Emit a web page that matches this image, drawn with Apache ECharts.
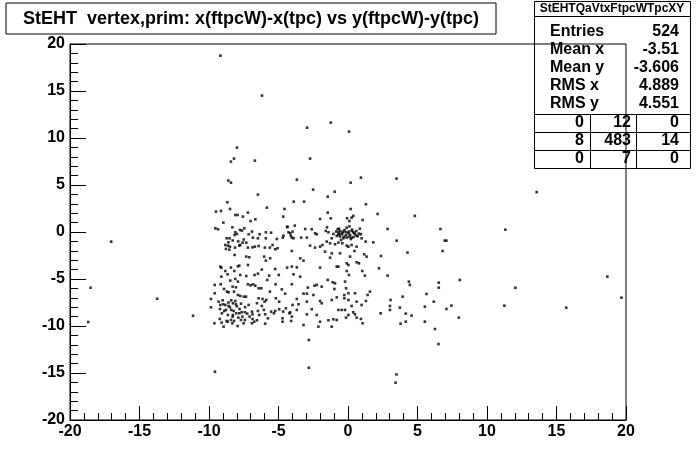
<!DOCTYPE html>
<html><head><meta charset="utf-8">
<script src="https://cdn.jsdelivr.net/npm/echarts@6/dist/echarts.min.js"></script>
<style>html,body{margin:0;padding:0;background:#fff}#c{width:696px;height:468px}</style>
</head><body><div id="c"></div><script>
const titleText = 'StEHT  vertex,prim: x(ftpcW)-x(tpc) vs y(ftpcW)-y(tpc)';
const statsName = 'StEHTQaVtxFtpcWTpcXY';
const statLabels = ['Entries', 'Mean x', 'Mean y', 'RMS x', 'RMS y'];
const statValues = ['524', '-3.51', '-3.606', '4.889', '4.551'];
const overflowGrid = [['0', '12', '0'], ['8', '483', '14'], ['0', '7', '0']];
const axisMin = -20, axisMax = 20, axisStep = 5;

const leftBlock = [[-8.68,3.16],[-9.50,2.17],[-9.14,2.24],[-8.49,2.45],[-5.84,2.59],[-4.57,2.45],[-7.20,2.06],[-8.11,1.81],[-7.94,1.81],[-7.56,1.64],[-4.66,1.64],[-6.67,1.35],[-7.01,1.17],[-8.97,1.00],[-9.54,0.39],[-9.35,0.29],[-8.32,0.50],[-7.46,0.39],[-7.77,0.22],[-7.63,0.15],[-8.11,-0.03],[-7.99,-0.21],[-8.16,-0.32],[-6.91,0.04],[-7.15,-0.24],[-6.36,-0.24],[-5.91,-0.03],[-5.53,-0.07],[-4.38,0.54],[-4.64,-0.39],[-4.69,-0.60],[-8.73,-0.67],[-8.52,-0.67],[-6.84,-0.60],[-6.48,-0.67],[-5.91,-0.67],[-5.12,-0.74],[-7.58,-1.13],[-7.32,-1.13],[-8.83,-1.38],[-8.64,-1.45],[-8.49,-1.56],[-8.78,-1.80],[-8.54,-1.88],[-7.82,-1.45],[-7.75,-1.38],[-8.13,-1.66],[-7.20,-1.66],[-6.87,-1.63],[-6.70,-1.56],[-6.43,-1.49],[-5.43,-1.38],[-5.07,-1.73],[-5.24,-1.84],[-5.62,-1.66],[-5.98,-1.66],[-8.16,-2.44],[-7.32,-2.62],[-7.10,-2.69],[-6.03,-2.62],[-5.60,-2.80],[-5.91,-3.05],[-7.20,-3.51],[-9.19,-3.68],[-9.11,-3.79],[-8.42,-3.79],[-7.92,-3.65],[-7.82,-3.58],[-4.38,-3.79],[-8.83,-4.15],[-8.18,-4.15],[-6.20,-4.00],[-5.24,-3.93],[-9.11,-4.75],[-8.66,-4.50],[-7.75,-4.57],[-7.32,-4.68],[-6.72,-4.57],[-6.48,-4.43],[-5.67,-4.64],[-4.98,-4.57],[-8.11,-5.00],[-8.47,-5.17],[-7.92,-5.28],[-7.20,-5.56],[-7.01,-5.67],[-6.84,-5.56],[-6.67,-5.71],[-5.81,-5.10],[-5.21,-5.56],[-9.59,-5.63],[-9.16,-5.56],[-8.92,-6.06],[-8.30,-5.81],[-8.06,-5.88],[-6.43,-5.99],[-6.24,-5.99],[-4.76,-6.10],[-4.52,-6.56],[-9.59,-6.52],[-8.71,-6.34],[-8.59,-6.41],[-8.20,-6.34],[-7.92,-6.70],[-7.75,-6.80],[-7.34,-6.88],[-7.49,-6.88],[-5.62,-6.34],[-9.86,-7.12],[-9.31,-7.41],[-9.02,-7.27],[-8.40,-7.27],[-8.11,-7.34],[-6.43,-7.05],[-6.15,-7.12],[-5.88,-7.23],[-6.00,-7.41],[-5.19,-7.05],[-4.95,-7.41],[-9.19,-7.76],[-8.99,-7.69],[-8.83,-7.76],[-8.59,-7.87],[-8.28,-7.58],[-8.06,-7.69],[-7.70,-7.62],[-7.15,-7.76],[-6.55,-7.58],[-6.20,-7.87],[-9.86,-8.01],[-9.21,-8.19],[-8.78,-8.29],[-8.40,-8.29],[-8.23,-8.40],[-8.04,-8.65],[-7.65,-8.54],[-7.42,-8.54],[-7.25,-8.68],[-6.91,-8.47],[-6.48,-8.40],[-6.05,-8.29],[-5.53,-8.47],[-5.24,-8.40],[-4.95,-8.22],[-4.47,-8.12],[-9.07,-8.65],[-8.64,-8.83],[-8.28,-8.83],[-7.82,-8.65],[-6.87,-8.76],[-7.08,-9.00],[-6.39,-8.83],[-5.96,-8.76],[-5.33,-8.65],[-4.21,-8.65],[-4.66,-8.47],[-9.23,-9.25],[-8.73,-9.46],[-8.42,-9.36],[-8.20,-9.46],[-7.89,-9.11],[-7.70,-9.36],[-7.42,-9.36],[-6.87,-9.25],[-6.55,-9.39],[-5.76,-9.18],[-4.71,-9.18],[-9.61,-9.71],[-9.09,-9.64],[-8.66,-9.54],[-8.32,-9.71],[-7.94,-10.00],[-7.51,-9.71],[-6.91,-9.71],[-6.75,-9.54],[-5.96,-9.75],[-4.71,-9.54],[-8.95,-10.07],
[-8.5,-8.0],[-8.0,-7.9],[-7.8,-8.2],[-8.3,-9.0],[-7.6,-9.0],[-8.9,-8.4],[-8.6,-7.5],[-7.4,-8.0],[-8.3,-0.9],[-7.9,-1.0],[-8.6,-1.1],[-7.5,-0.8]];

const midBlock = [[-1.46,3.76],[-3.90,3.23],[-3.16,3.23],[-1.46,2.06],[1.29,2.95],[0.19,2.45],[-2.01,1.39],[-1.24,1.46],[-0.07,1.46],[0.38,1.71],[0.26,1.53],[0.10,1.17],[1.05,1.28],[-3.83,0.68],[-4.35,0.54],[-1.51,0.50],[-3.08,0.32],[-2.61,0.29],[-1.60,0.11],[-4.28,-0.03],[-4.16,-0.14],[-3.99,0.04],[-4.11,-0.39],[-4.04,-0.60],[-3.92,-0.67],[-3.37,-0.60],[-2.96,-0.60],[-2.37,-0.14],[-2.25,-0.24],[-1.41,-0.03],[-1.05,-0.21],[-0.74,0.29],[-0.69,-0.03],[-0.62,-0.21],[-0.81,-0.42],[-0.57,-0.49],[-0.45,-0.24],[-0.33,0.04],[-0.14,-0.03],[0.03,-0.14],[0.26,0.11],[0.38,-0.03],[0.50,-0.24],[0.62,-0.39],[0.79,-0.17],[0.93,-0.24],[0.98,-0.67],[0.10,-0.49],[0.26,-0.60],[-0.09,-0.60],[-0.33,-0.67],[-1.17,-0.67],[-1.53,-1.02],[-1.29,-1.20],[-0.93,-1.31],[-0.69,-1.13],[-0.41,-1.20],[-0.09,-1.45],[0.03,-1.56],[0.26,-1.38],[0.62,-1.56],[1.27,-1.02],[1.82,-1.10],[-2.73,-1.45],[-2.37,-1.66],[-2.01,-1.56],[-1.84,-1.38],[-4.04,-2.02],[-1.65,-2.09],[-1.17,-2.27],[-0.57,-2.27],[0.46,-2.02],[-3.44,-2.80],[-3.20,-3.05],[-1.29,-2.73],[0.15,-2.62],[1.17,-2.37],[1.34,-2.62],[-4.04,-3.68],[-3.68,-3.76],[-2.01,-3.79],[-0.81,-3.68],[-0.69,-3.68],[-0.09,-3.33],[0.03,-3.51],[0.62,-3.22],[0.79,-3.33],[2.23,-3.86],[-3.92,-4.50],[-3.44,-4.75],[-0.09,-4.15],[0.07,-4.57],[1.03,-4.15],[1.22,-4.64],[-4.04,-5.56],[-2.25,-5.63],[-1.46,-5.10],[-1.10,-5.35],[-0.93,-5.46],[-0.21,-5.28],[-2.89,-5.92],[-2.41,-5.71],[-1.89,-5.81],[-0.98,-6.06],[-0.14,-5.99],[0.03,-6.52],[-3.20,-6.56],[-2.96,-6.56],[-2.49,-6.70],[-0.26,-6.70],[-0.81,-6.95],[0.50,-6.52],[1.41,-6.70],[1.58,-6.34],[-3.68,-7.12],[-2.96,-7.41],[-2.01,-7.34],[-1.89,-7.58],[-1.17,-7.23],[-0.26,-7.05],[0.03,-7.23],[0.62,-7.41],[0.98,-7.76],[1.29,-7.34],[-3.99,-7.76],[-3.56,-7.69],[-2.61,-8.22],[-0.69,-8.29],[-0.45,-8.29],[-0.21,-8.29],[0.26,-7.87],[-4.16,-8.54],[-3.68,-8.29],[-2.96,-8.76],[-2.25,-8.83],[0.38,-8.54],[0.50,-8.76],[0.03,-8.83],[-0.14,-9.11],[0.62,-9.11],[-4.04,-9.00],[-4.09,-9.46],[-2.01,-9.54],[-1.41,-9.39],[-1.05,-9.29],[-0.81,-9.36],[0.93,-9.25],[-3.20,-9.89],[-2.13,-10.07],[-1.17,-10.07],[1.05,-9.71],
[-0.55,0.10],[-0.40,-0.10],[-0.25,0.20],[-0.15,-0.35],[0.05,0.05],[0.15,-0.30],[0.30,0.25],[0.45,-0.10],[-0.70,-0.30],[-0.85,0.05],[0.60,0.10],[0.70,-0.45],[-0.30,-0.50],[0.20,-0.75],[-0.50,-0.85],[0.85,0.35],[-0.10,0.45],[0.40,-0.55],[-0.65,0.35],[0.10,0.60]];

const rightBlock = [[2.13,1.92],[4.81,1.71],[2.85,0.32],[6.65,0.32],[3.50,-0.92],[6.96,-0.92],[7.08,-0.92],[4.28,-2.19],[6.80,-2.02],[2.37,-2.55],[2.85,-4.64],[8.04,-5.10],[4.38,-5.28],[4.45,-5.63],[6.53,-5.39],[6.53,-5.92],[5.65,-6.59],[3.93,-6.88],[3.06,-7.23],[6.17,-7.41],[3.02,-7.87],[3.02,-8.29],[3.73,-8.05],[5.53,-7.94],[7.44,-7.83],[7.08,-8.19],[2.35,-8.65],[4.16,-8.68],[4.57,-8.90],[7.97,-9.11],[3.78,-9.75],[4.16,-9.54],[5.53,-9.54],[6.25,-10.32]];

const outliers = [[-9.18,18.76],[-6.19,14.51],[-2.94,11.10],[-1.24,11.64],[0.07,10.68],[-7.99,8.98],[-8.20,7.81],[-8.42,7.49],[-6.70,7.59],[-2.73,7.81],[-8.61,5.47],[-8.42,5.25],[-3.68,5.57],[0.93,5.78],[3.49,5.68],[0.19,5.25],[-6.48,3.98],[-2.51,4.51],[-0.96,4.29],
[13.57,4.25],[11.32,0.25],[18.66,-4.75],[12.04,-5.93],[11.25,-7.84],[15.70,-8.05],[19.67,-6.99],
[-17.04,-1.03],[-18.52,-5.93],[-13.73,-7.10],[-11.15,-8.91],[-18.69,-9.58],
[-2.82,-11.49],[6.51,-11.92],[-9.57,-14.86],[-2.82,-14.44],[3.49,-15.15],[3.42,-16.03]];

const FONT = '"Liberation Sans", Arial, Helvetica, sans-serif';
const chart = echarts.init(document.getElementById('c'), null, {renderer: 'canvas'});

const points = leftBlock.concat(midBlock, rightBlock, outliers);

// stats box geometry
const SB = {l: 534, r: 690, t: 1, b: 168};
const rowY = [32, 50, 68, 86, 104];
const gridLinesY = [114, 132, 150];
const gridColX = [590, 636];
const gridRowY = [123, 141, 159];
const gridRightX = [584, 631, 679];

const graphics = [];
graphics.push({type: 'rect', z: 1, shape: {x: 6, y: 3, width: 490, height: 31}, style: {fill: '#fff', stroke: '#000', lineWidth: 1}});
graphics.push({type: 'text', z: 2, x: 251, y: 19, style: {text: titleText, font: 'bold 18px ' + FONT, fill: '#000', textAlign: 'center', textVerticalAlign: 'middle'}});
graphics.push({type: 'rect', z: 1, shape: {x: SB.l + 0.5, y: SB.t + 0.5, width: SB.r - SB.l, height: SB.b - SB.t}, style: {fill: 'none', stroke: '#000', lineWidth: 1}});
graphics.push({type: 'line', z: 1, shape: {x1: SB.l, y1: 16.5, x2: SB.r, y2: 16.5}, style: {stroke: '#000', lineWidth: 1}});
graphics.push({type: 'text', z: 2, x: (SB.l + SB.r) / 2, y: 9, style: {text: statsName, font: 'bold 12px ' + FONT, fill: '#000', textAlign: 'center', textVerticalAlign: 'middle'}});
statLabels.forEach((lab, i) => {
  graphics.push({type: 'text', z: 2, x: 550, y: rowY[i], style: {text: lab, font: 'bold 16px ' + FONT, fill: '#000', textAlign: 'left', textVerticalAlign: 'middle'}});
  graphics.push({type: 'text', z: 2, x: 679, y: rowY[i], style: {text: statValues[i], font: 'bold 16px ' + FONT, fill: '#000', textAlign: 'right', textVerticalAlign: 'middle'}});
});
gridLinesY.forEach(y => graphics.push({type: 'line', z: 1, shape: {x1: SB.l, y1: y + 0.5, x2: SB.r, y2: y + 0.5}, style: {stroke: '#000', lineWidth: 1}}));
gridColX.forEach(x => graphics.push({type: 'line', z: 1, shape: {x1: x + 0.5, y1: gridLinesY[0], x2: x + 0.5, y2: SB.b}, style: {stroke: '#000', lineWidth: 1}}));
overflowGrid.forEach((row, r) => row.forEach((v, c) => {
  graphics.push({type: 'text', z: 2, x: gridRightX[c], y: gridRowY[r], style: {text: v, font: 'bold 16px ' + FONT, fill: '#000', textAlign: 'right', textVerticalAlign: 'middle'}});
}));

const axisCommon = {
  type: 'value', min: axisMin, max: axisMax, interval: axisStep,
  splitLine: {show: false},
  axisLine: {show: true, onZero: false, lineStyle: {color: '#000', width: 1}},
  axisLabel: {color: '#000', fontFamily: FONT, fontWeight: 'bold', fontSize: 16},
};

chart.setOption({
  animation: false,
  backgroundColor: '#fff',
  grid: {left: 70, top: 44, width: 556, height: 376, show: true, borderColor: '#000', borderWidth: 1, z: 10, containLabel: false},
  xAxis: Object.assign({}, axisCommon, {
    axisTick: {show: true, inside: true, length: 14, lineStyle: {color: '#000'}},
    minorTick: {show: true, splitNumber: 5, length: 7, lineStyle: {color: '#000'}},
    axisLabel: Object.assign({}, axisCommon.axisLabel, {margin: 4})
  }),
  yAxis: Object.assign({}, axisCommon, {
    axisTick: {show: true, inside: true, length: 16, lineStyle: {color: '#000'}},
    minorTick: {show: true, splitNumber: 5, length: 8, lineStyle: {color: '#000'}},
    axisLabel: Object.assign({}, axisCommon.axisLabel, {margin: 5})
  }),
  graphic: graphics,
  series: [{
    type: 'scatter', data: points, symbol: 'rect', symbolSize: 2.6,
    itemStyle: {color: '#000'}, z: 5, silent: true
  }]
});
</script></body></html>
